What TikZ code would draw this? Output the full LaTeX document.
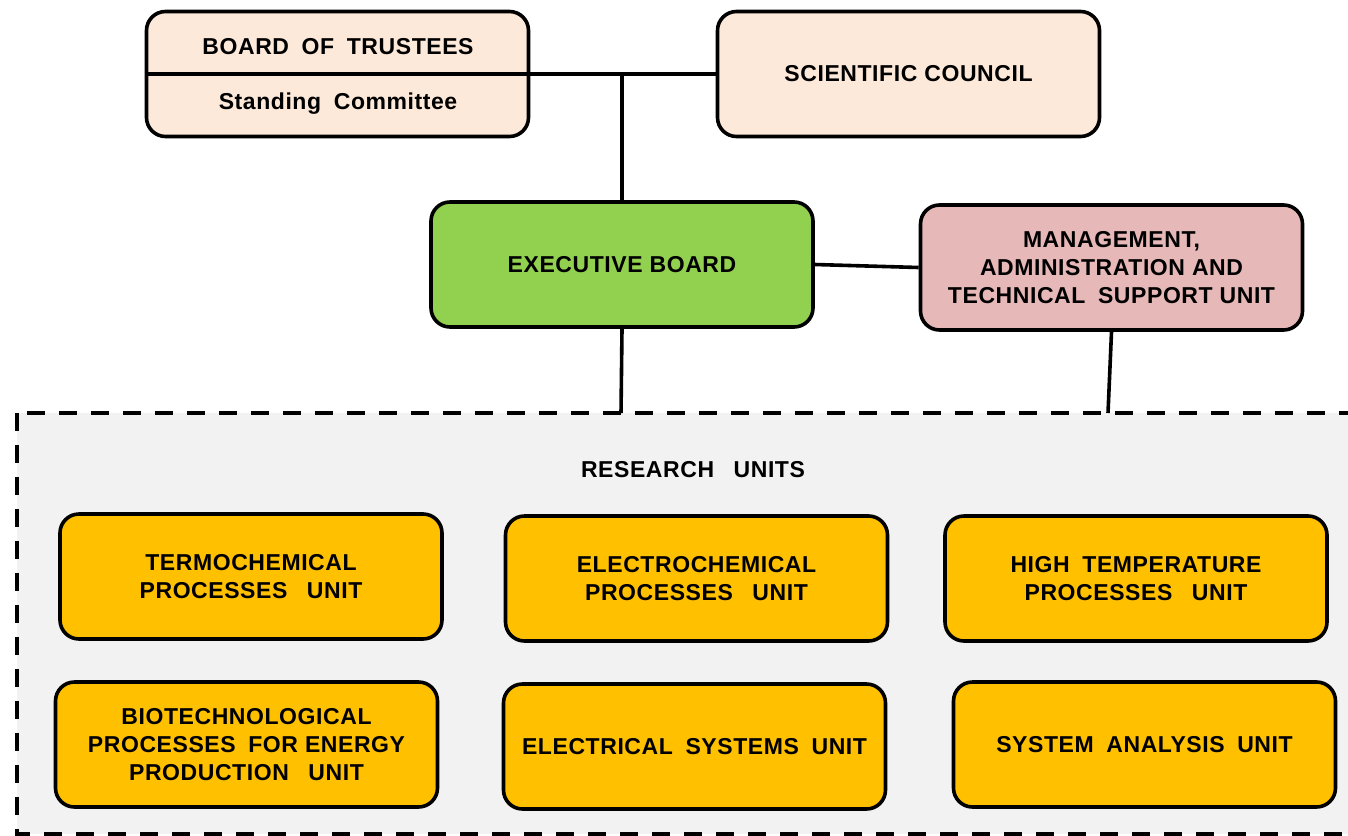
\documentclass[tikz,border=0pt]{standalone}
\usepackage{fontspec}
\setmainfont{Liberation Sans}[LetterSpace=2.5]
\definecolor{peach}{HTML}{FCE9DA}
\definecolor{exgreen}{HTML}{92D050}
\definecolor{mgpink}{HTML}{E6B8B7}
\definecolor{unityellow}{HTML}{FFC000}
\definecolor{resgray}{HTML}{F2F2F2}
\newcommand{\wsp}{\hspace{0.55em}}
\newcommand{\wwsp}{\hspace{0.85em}}
\begin{document}
\begin{tikzpicture}[x=1pt,y=-1pt,
  box/.style={draw=black,line width=3.6pt,rounded corners=19pt,minimum width=382pt,minimum height=125pt,inner sep=0pt,align=center,font=\fontsize{23}{28}\selectfont\bfseries},
  lbl/.style={inner sep=0pt,align=center,font=\fontsize{23}{28}\selectfont\bfseries},
  conn/.style={draw=black,line width=3.6pt}]
\useasboundingbox (0,0) rectangle (1348,835);
% research area
\path[fill=resgray,draw=black,line width=4.5pt,dash pattern=on 18pt off 14pt] (17,413) rectangle (1370,834);
\coordinate (r1) at (621,413);
\coordinate (r2) at (1108,413);
% top boxes
\node[box,fill=peach] (board) at (337.5,74) {};
\node[box,fill=peach] (council) at (908.5,74) {SCIENTIFIC COUNCIL};
\node[lbl] (trustees) at (338,47) {BOARD\wsp OF\wsp TRUSTEES};
\node[lbl] (standing) at (338,104) {Standing\wsp Committee};
\draw[conn] (board.west) -- (council.west);
\coordinate (j) at (622,74);
\node[box,fill=exgreen] (exec) at (622,264.5) {EXECUTIVE BOARD};
\node[box,fill=mgpink] (mgmt) at (1111.5,267.5) {MANAGEMENT,\\ADMINISTRATION AND\\TECHNICAL\wsp SUPPORT UNIT};
\draw[conn] (j) -- (exec.north);
\draw[conn] (exec.east) -- (mgmt.west);
\draw[conn] (exec.south) -- (r1);
\draw[conn] (mgmt.south) -- (r2);
% research units
\node[lbl] (research) at (693,470) {RESEARCH\wwsp UNITS};
\node[box,fill=unityellow] (termo) at (251,576.5) {TERMOCHEMICAL\\PROCESSES\wwsp UNIT};
\node[box,fill=unityellow] (electrochem) at (696.5,578.5) {ELECTROCHEMICAL\\PROCESSES\wwsp UNIT};
\node[box,fill=unityellow] (hightemp) at (1136,578.5) {HIGH\wsp TEMPERATURE\\PROCESSES\wwsp UNIT};
\node[box,fill=unityellow] (biotech) at (246.5,744.5) {BIOTECHNOLOGICAL\\PROCESSES\wsp FOR ENERGY\\PRODUCTION\wwsp UNIT};
\node[box,fill=unityellow] (electrical) at (694.5,746.5) {ELECTRICAL\wsp SYSTEMS\wsp UNIT};
\node[box,fill=unityellow] (system) at (1144.5,744.5) {SYSTEM\wsp ANALYSIS\wsp UNIT};
\end{tikzpicture}
\end{document}
